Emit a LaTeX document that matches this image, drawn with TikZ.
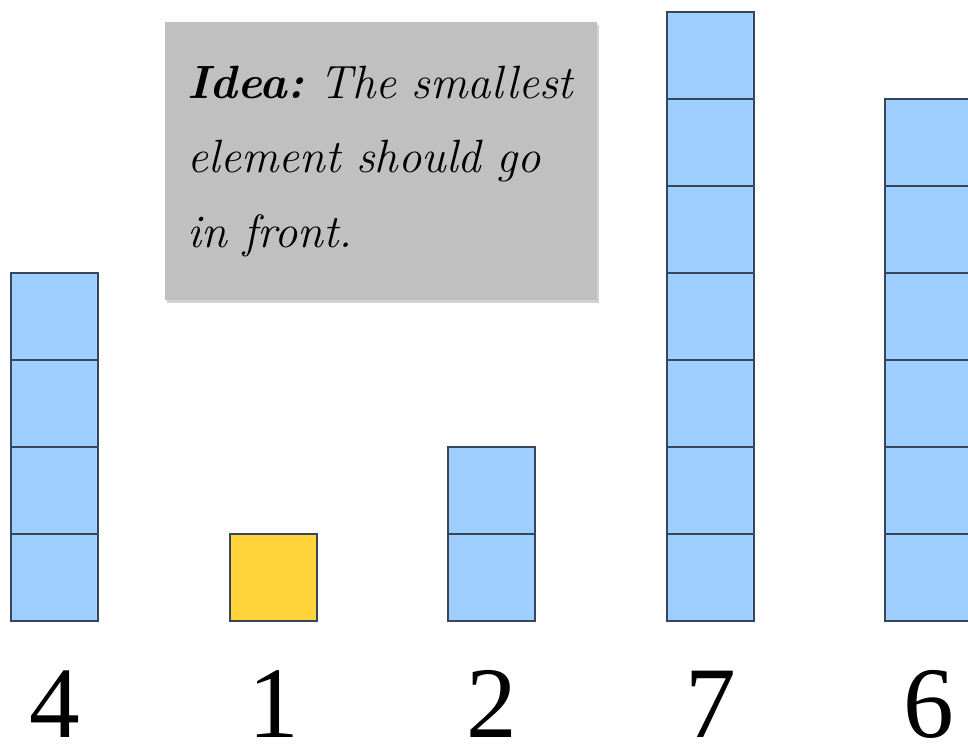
\documentclass[tikz,border=0pt]{standalone}
\usepackage{fontspec}
\newfontfamily\numfont{Liberation Serif}
\usepackage{tikz}
\usetikzlibrary{positioning,shadows}
\definecolor{cellblue}{RGB}{159,207,255}
\definecolor{cellyellow}{RGB}{255,211,58}
\definecolor{celledge}{RGB}{55,70,90}
\definecolor{notegray}{RGB}{192,192,192}
\frenchspacing

\begin{document}
\begin{tikzpicture}[x=0.75pt,y=-0.75pt]
  \tikzstyle{cellbox}=[rectangle,draw=celledge,line width=0.8pt,fill=cellblue,minimum size=65.25pt,inner sep=0pt,outer sep=0pt]
  \tikzstyle{minbox}=[cellbox,fill=cellyellow]
  \tikzstyle{numlabel}=[font=\numfont\fontsize{76}{76}\selectfont,inner sep=0pt,text depth=0pt,anchor=base]
  \tikzstyle{notebox}=[rectangle,fill=notegray,minimum width=324pt,minimum height=208.5pt,inner xsep=17pt,text width=290pt,align=left,font=\fontsize{35}{56}\selectfont\itshape,drop shadow={shadow xshift=1pt,shadow yshift=-2pt,opacity=0.35}]

  \useasboundingbox (0,0) rectangle (968,746);
  \clip (0,0) rectangle (968,746);
  \fill[white] (0,0) rectangle (968,746);

  % one column of cells per value, number underneath
  \foreach \v/\x [count=\i] in {4/54.5,1/273.5,2/491.5,7/710.5,6/928.5} {
    \ifnum\v=1 \def\cellstyle{minbox}\else\def\cellstyle{cellbox}\fi
    \foreach \k in {1,...,\v} {
      \node[\cellstyle] (c\i-\k) at (\x,{621-87*\k+43.5}) {};
    }
    \node[numlabel] (n\i) at (\x,737) {\v};
  }

  \node[notebox,anchor=north west] (note) at (165,22) {\textbf{Idea:} The smallest\\element should go\\in front.};
\end{tikzpicture}
\end{document}
